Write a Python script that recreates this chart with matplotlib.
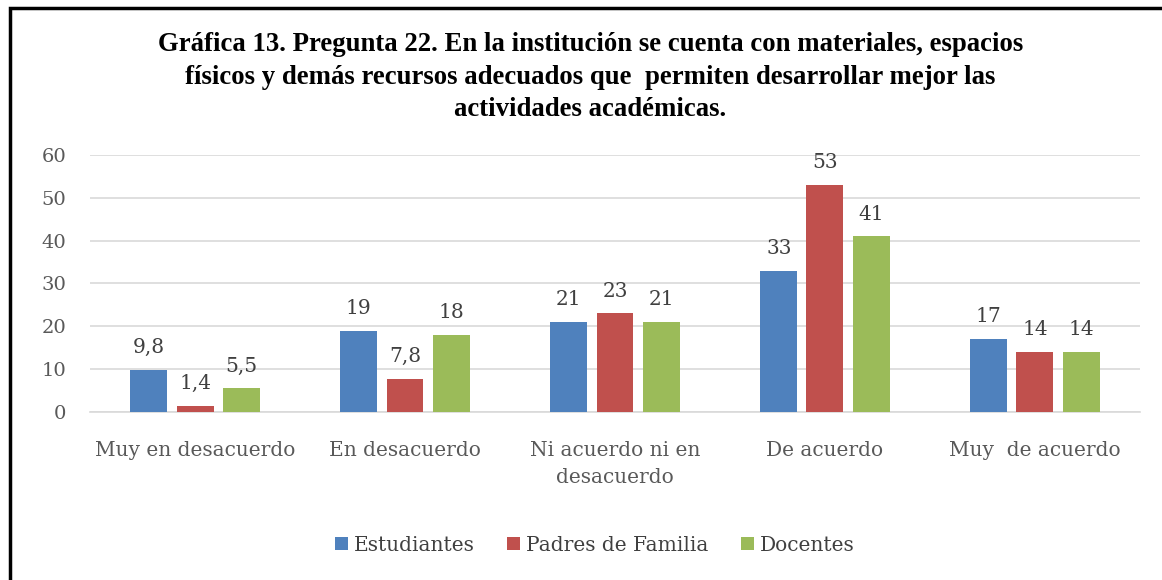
import numpy as np
import matplotlib.pyplot as plt
from matplotlib.patches import Rectangle

categorias = ['Muy en desacuerdo', 'En desacuerdo', 'Ni acuerdo ni en\ndesacuerdo',
              'De acuerdo', 'Muy  de acuerdo']
estudiantes = [9.8, 19, 21, 33, 17]
padres = [1.4, 7.8, 23, 53, 14]
docentes = [5.5, 18, 21, 41, 14]
etiquetas = [['9,8', '19', '21', '33', '17'],
             ['1,4', '7,8', '23', '53', '14'],
             ['5,5', '18', '21', '41', '14']]
series = ['Estudiantes', 'Padres de Familia', 'Docentes']
colores = ['#4F81BD', '#C0504D', '#9BBB59']

plt.rcParams['font.family'] = ['DejaVu Serif']

fig = plt.figure(figsize=(11.62, 5.80), dpi=100)
ax = fig.add_axes([0.0775, 0.2897, 0.9035, 0.4431])

x = np.arange(len(categorias))
paso = 0.22
ancho = 0.176
for i, (vals, nombre, col) in enumerate(zip([estudiantes, padres, docentes], series, colores)):
    pos = x + (i - 1) * paso
    ax.bar(pos, vals, width=ancho, color=col, label=nombre, zorder=3)
    for p, v, t in zip(pos, vals, etiquetas[i]):
        ax.text(p, v + 3.0, t, ha='center', va='bottom', fontsize=14.5, color='#404040')

ax.set_xlim(-0.5, 4.5)
ax.set_ylim(0, 60)
ax.set_yticks(np.arange(0, 61, 10))
ax.set_xticks(x)
ax.set_xticklabels(categorias, fontsize=14.5, color='#595959', linespacing=1.55)
ax.tick_params(axis='y', labelsize=14, labelcolor='#595959', length=0, pad=17)
ax.tick_params(axis='x', length=0, pad=21)
ax.grid(axis='y', color='#D9D9D9', linewidth=1.2, zorder=0)
for s in ['top', 'right', 'left']:
    ax.spines[s].set_visible(False)
ax.spines['bottom'].set_color('#D9D9D9')
ax.spines['bottom'].set_linewidth(1.2)

fig.text(0.508, 0.867,
         'Gráfica 13. Pregunta 22. En la institución se cuenta con materiales, espacios\n'
         'físicos y demás recursos adecuados que  permiten desarrollar mejor las\n'
         'actividades académicas.',
         ha='center', va='center', fontsize=19.3, fontweight='bold', linespacing=1.4,
         family=['Liberation Serif'])

leg = fig.legend(loc='center', bbox_to_anchor=(0.512, 0.06), ncol=3, frameon=False,
                 fontsize=14.5, handlelength=0.65, handleheight=0.65, handletextpad=0.3,
                 columnspacing=1.6, labelcolor='#404040')

# marco del gráfico (solo se ven los bordes superior e izquierdo)
fig.patches.append(Rectangle((0.0085, -0.05), 1.2, 1.036, transform=fig.transFigure,
                             fill=False, edgecolor='black', linewidth=2.5))

fig.savefig('out.png', dpi=100)
